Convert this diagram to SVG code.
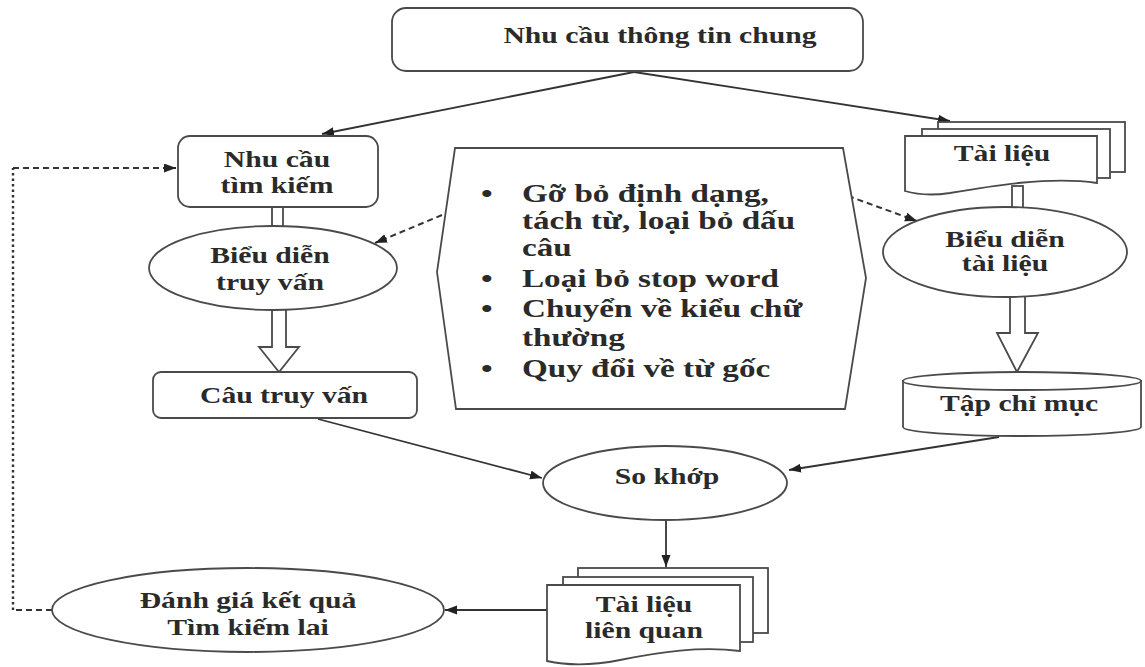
<svg xmlns="http://www.w3.org/2000/svg" width="1145" height="667" viewBox="0 0 1145 667">
  <defs>
    <style>
      .shape { fill: #ffffff; stroke: #4a4a4a; stroke-width: 1.8; }
      .line { fill: none; stroke: #333333; stroke-width: 1.8; }
      .dash { fill: none; stroke: #333333; stroke-width: 2; stroke-dasharray: 6 4; }
      .dot { fill: none; stroke: #333333; stroke-width: 2.4; stroke-dasharray: 2.5 3; }
      .lbl { font-family: "Liberation Serif", "Times New Roman", serif; font-size: 23px; font-weight: bold; fill: #2a2a2a; text-anchor: middle; }
      .bul { font-family: "Liberation Serif", "Times New Roman", serif; font-size: 25.5px; font-weight: bold; fill: #2a2a2a; }
    </style>
    <marker id="arr" markerUnits="userSpaceOnUse" markerWidth="13" markerHeight="10" refX="12" refY="4.5" orient="auto">
      <path d="M0,0 L12,4.5 L0,9 z" fill="#222222"/>
    </marker>
  </defs>
  <rect width="1145" height="667" fill="#ffffff"/>

  <!-- connectors -->
  <g id="connectors">
    <path class="line" d="M634,72 L322,134" marker-end="url(#arr)"/>
    <path class="line" d="M634,72 L950,121" marker-end="url(#arr)"/>
    <!-- double-line links -->
    <rect class="shape" x="272" y="205" width="11" height="23"/>
    <rect class="shape" x="1012" y="186" width="11" height="23"/>
    <!-- hollow block arrows -->
    <polygon class="shape" points="272,305 286,305 286,347 299,347 279,372 259,347 272,347"/>
    <polygon class="shape" points="1010,293 1025,293 1025,333 1038,333 1017,372 997,333 1010,333"/>
    <!-- dashed links from the preprocessing box -->
    <path class="dash" d="M442,215 L375,243" marker-end="url(#arr)"/>
    <path class="dash" d="M848,196 L917,221" marker-end="url(#arr)"/>
    <!-- flow to matching -->
    <path class="line" d="M318,419 L542,478" marker-end="url(#arr)"/>
    <path class="line" d="M999,437 L789,470" marker-end="url(#arr)"/>
    <path class="line" d="M666,520 L666,567" marker-end="url(#arr)"/>
    <path class="line" d="M547,610 L445,610" marker-end="url(#arr)"/>
    <!-- feedback loop -->
    <path class="dash" d="M52,610 L13,610"/>
    <path class="dot" d="M13,610 L13,168"/>
    <path class="dash" d="M13,168 L176,168" marker-end="url(#arr)"/>
  </g>

  <g id="nhu-cau-thong-tin-chung">
    <rect class="shape" x="392" y="8" width="471" height="63" rx="14"/>
    <text class="lbl" transform="translate(660,43) scale(1.29,1)">Nhu cầu thông tin chung</text>
  </g>

  <g id="nhu-cau-tim-kiem">
    <rect class="shape" x="178" y="136" width="200" height="71" rx="12"/>
    <text class="lbl" transform="translate(277,167) scale(1.29,1)">Nhu cầu</text>
    <text class="lbl" transform="translate(277,193) scale(1.29,1)">tìm kiếm</text>
  </g>

  <g id="bieu-dien-truy-van">
    <ellipse class="shape" cx="273" cy="268" rx="124" ry="42"/>
    <text class="lbl" transform="translate(270,263) scale(1.29,1)">Biểu diễn</text>
    <text class="lbl" transform="translate(270,290) scale(1.29,1)">truy vấn</text>
  </g>

  <g id="cau-truy-van">
    <rect class="shape" x="153" y="372" width="264" height="46" rx="8"/>
    <text class="lbl" transform="translate(284,403) scale(1.29,1)">Câu truy vấn</text>
  </g>

  <g id="tien-xu-ly">
    <polygon class="shape" points="455,148 843,148 866,278 845,409 456,409 437,272"/>
    <g class="bul">
      <text transform="translate(481,202) scale(1.3,1)">•</text>
      <text transform="translate(522,202) scale(1.3,1)">Gỡ bỏ định dạng,</text>
      <text transform="translate(522,229) scale(1.3,1)">tách từ, loại bỏ dấu</text>
      <text transform="translate(522,256) scale(1.3,1)">câu</text>
      <text transform="translate(481,287) scale(1.3,1)">•</text>
      <text transform="translate(522,287) scale(1.3,1)">Loại bỏ stop word</text>
      <text transform="translate(481,317) scale(1.3,1)">•</text>
      <text transform="translate(522,317) scale(1.3,1)">Chuyển về kiểu chữ</text>
      <text transform="translate(522,346) scale(1.3,1)">thường</text>
      <text transform="translate(481,377) scale(1.3,1)">•</text>
      <text transform="translate(522,377) scale(1.3,1)">Quy đổi về từ gốc</text>
    </g>
  </g>

  <g id="tai-lieu">
    <rect class="shape" x="938" y="122" width="187" height="50"/>
    <rect class="shape" x="922" y="129" width="188" height="49"/>
    <path class="shape" d="M905,136 H1097 V183 C1050,176 990,186 950,193 C930,196 915,194 905,191 Z"/>
    <text class="lbl" transform="translate(1002,161) scale(1.29,1)">Tài liệu</text>
  </g>

  <g id="bieu-dien-tai-lieu">
    <ellipse class="shape" cx="1005" cy="252" rx="122" ry="45"/>
    <text class="lbl" transform="translate(1005,247) scale(1.29,1)">Biểu diễn</text>
    <text class="lbl" transform="translate(1005,271) scale(1.29,1)">tài liệu</text>
  </g>

  <g id="tap-chi-muc">
    <path class="shape" d="M903,381 V427 A119,9 0 0 0 1141,427 V381 Z"/>
    <ellipse class="shape" cx="1022" cy="381" rx="119" ry="9"/>
    <text class="lbl" transform="translate(1019,411) scale(1.29,1)">Tập chỉ mục</text>
  </g>

  <g id="so-khop">
    <ellipse class="shape" cx="665" cy="483" rx="122" ry="37"/>
    <text class="lbl" transform="translate(667,484) scale(1.29,1)">So khớp</text>
  </g>

  <g id="tai-lieu-lien-quan">
    <rect class="shape" x="578" y="568" width="190" height="65"/>
    <rect class="shape" x="563" y="577" width="190" height="65"/>
    <path class="shape" d="M547,585 H740 V651 C700,646 660,652 620,660 C590,666 565,665 547,661 Z"/>
    <text class="lbl" transform="translate(644,612) scale(1.29,1)">Tài liệu</text>
    <text class="lbl" transform="translate(644,638) scale(1.29,1)">liên quan</text>
  </g>

  <g id="danh-gia-ket-qua">
    <ellipse class="shape" cx="248" cy="610" rx="196" ry="42"/>
    <text class="lbl" transform="translate(248,608) scale(1.29,1)">Đánh giá kết quả</text>
    <text class="lbl" transform="translate(248,635) scale(1.29,1)">Tìm kiếm lai</text>
  </g>
</svg>
